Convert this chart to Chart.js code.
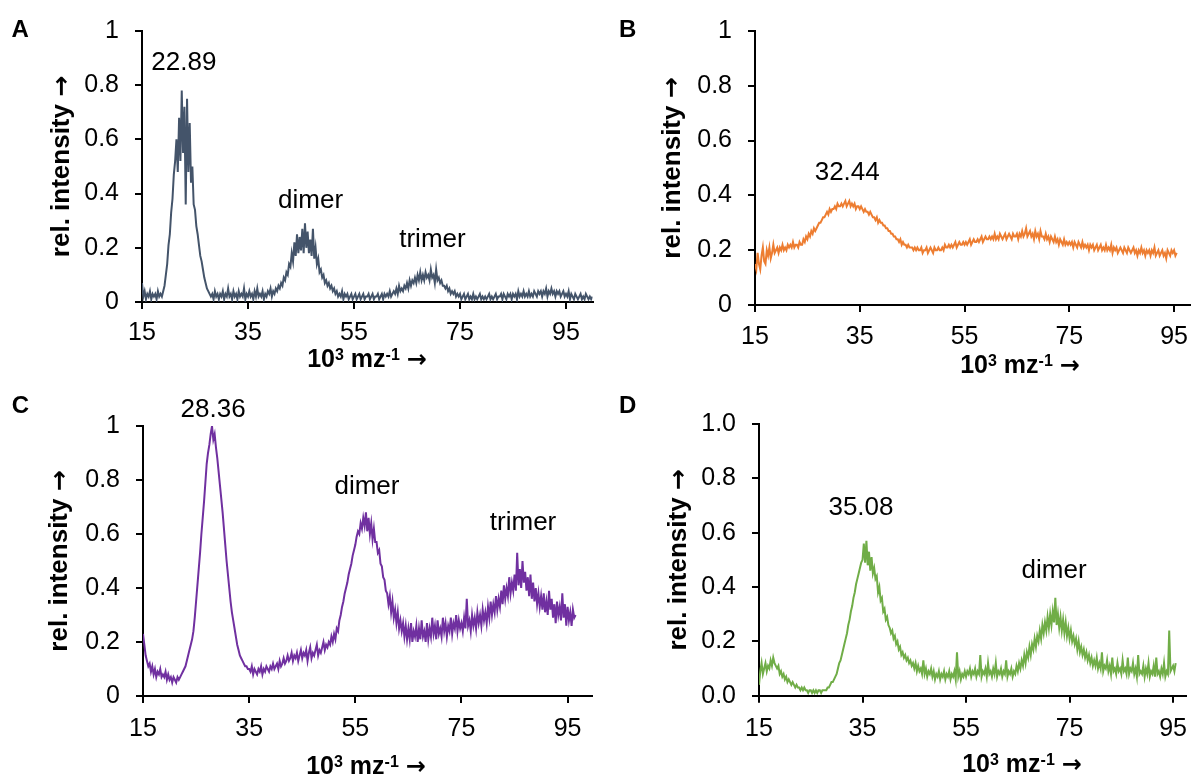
<!DOCTYPE html>
<html>
<head>
<meta charset="utf-8">
<script src="https://cdn.jsdelivr.net/npm/chart.js@4.4.1/dist/chart.umd.min.js"></script>
<style>
  html, body { margin: 0; padding: 0; background: #fff; }
  #wrap { position: relative; width: 1198px; height: 776px; overflow: hidden; }
  #wrap canvas { position: absolute; }
</style>
</head>
<body>
<div id="wrap">
  <canvas id="chartA" width="600" height="390" style="left:0;top:0"></canvas>
  <canvas id="chartB" width="598" height="390" style="left:600px;top:0"></canvas>
  <canvas id="chartC" width="600" height="386" style="left:0;top:390px"></canvas>
  <canvas id="chartD" width="598" height="386" style="left:600px;top:390px"></canvas>
</div>
<script>
var FONT = "'Liberation Sans', Arial, sans-serif";
var ARROW_FONT = "'DejaVu Sans', sans-serif";

// x sampling: 10^3 m/z from 15, every 0.25
var mzStart = 15;
var mzStep = 0.25;

var xTicks = [15, 35, 55, 75, 95];
var yTicks = [0, 0.2, 0.4, 0.6, 0.8, 1];
var yTickLabels = ['0', '0.2', '0.4', '0.6', '0.8', '1'];
var yTickLabelsD = ['0.0', '0.2', '0.4', '0.6', '0.8', '1.0'];

// A: 15 .. 100 (one row = 5 units)
var intensityA = [
  0.07,0.02,0.04,0.01,0.03,0.02,0.04,0.01,0.03,0.02,0.03,0.01,0.04,0.02,0.03,0.02,0.04,0.06,0.10,0.14,
  0.21,0.25,0.33,0.38,0.47,0.52,0.60,0.48,0.68,0.52,0.78,0.55,0.72,0.36,0.75,0.48,0.66,0.44,0.50,0.36,
  0.34,0.28,0.25,0.21,0.17,0.15,0.12,0.09,0.07,0.05,0.04,0.03,0.02,0.03,0.01,0.04,0.02,0.03,0.01,0.03,
  0.02,0.04,0.01,0.03,0.02,0.05,0.02,0.03,0.01,0.04,0.02,0.03,0.01,0.04,0.02,0.03,0.02,0.05,0.01,0.03,
  0.02,0.04,0.02,0.03,0.01,0.04,0.02,0.05,0.02,0.03,0.02,0.04,0.01,0.03,0.02,0.04,0.03,0.05,0.02,0.04,
  0.03,0.05,0.04,0.06,0.05,0.07,0.06,0.09,0.08,0.11,0.10,0.14,0.13,0.18,0.15,0.22,0.17,0.25,0.18,0.24,
  0.19,0.27,0.18,0.29,0.20,0.26,0.18,0.23,0.17,0.27,0.16,0.20,0.14,0.16,0.11,0.12,0.09,0.10,0.07,0.08,
  0.06,0.07,0.05,0.06,0.04,0.05,0.03,0.04,0.02,0.03,0.02,0.04,0.01,0.03,0.02,0.03,0.01,0.02,0.03,0.01,
  0.02,0.03,0.01,0.02,0.03,0.01,0.02,0.03,0.01,0.02,0.02,0.03,0.01,0.02,0.03,0.01,0.02,0.02,0.03,0.01,
  0.02,0.03,0.01,0.03,0.02,0.03,0.02,0.04,0.02,0.03,0.04,0.03,0.05,0.03,0.06,0.04,0.05,0.04,0.06,0.05,
  0.07,0.05,0.08,0.06,0.08,0.07,0.09,0.07,0.10,0.08,0.11,0.08,0.10,0.08,0.11,0.09,0.10,0.08,0.12,0.09,
  0.10,0.07,0.12,0.08,0.09,0.07,0.08,0.06,0.06,0.05,0.06,0.04,0.05,0.03,0.04,0.03,0.04,0.02,0.03,0.02,
  0.03,0.01,0.02,0.03,0.01,0.02,0.03,0.01,0.02,0.01,0.03,0.01,0.02,0.01,0.02,0.03,0.01,0.02,0.01,0.02,
  0.01,0.02,0.03,0.01,0.02,0.01,0.02,0.03,0.01,0.02,0.02,0.03,0.01,0.03,0.02,0.01,0.03,0.02,0.03,0.01,
  0.03,0.02,0.03,0.01,0.04,0.02,0.03,0.02,0.04,0.02,0.03,0.02,0.04,0.02,0.03,0.02,0.04,0.03,0.02,0.04,
  0.03,0.04,0.02,0.04,0.03,0.05,0.02,0.04,0.03,0.05,0.03,0.04,0.02,0.04,0.03,0.04,0.02,0.03,0.04,0.02,
  0.03,0.02,0.04,0.01,0.03,0.02,0.01,0.03,0.02,0.01,0.02,0.03,0.01,0.02,0.01,0.03,0.02,0.01,0.02,0.01,
  0.02
];

// B: 15 .. 95.5
var intensityB = [
  0.15,0.13,0.19,0.15,0.13,0.18,0.21,0.16,0.15,0.20,0.18,0.21,0.17,0.19,0.22,0.19,0.20,0.21,0.19,0.21,
  0.20,0.22,0.20,0.21,0.20,0.22,0.21,0.22,0.21,0.23,0.21,0.22,0.22,0.21,0.23,0.22,0.22,0.24,0.23,0.25,
  0.24,0.26,0.25,0.27,0.26,0.28,0.27,0.28,0.29,0.30,0.30,0.31,0.32,0.32,0.33,0.34,0.33,0.35,0.34,0.35,
  0.35,0.36,0.35,0.37,0.36,0.36,0.37,0.36,0.37,0.38,0.36,0.37,0.38,0.36,0.37,0.36,0.37,0.35,0.36,0.36,
  0.35,0.36,0.35,0.34,0.35,0.34,0.34,0.33,0.34,0.33,0.32,0.32,0.31,0.32,0.30,0.31,0.30,0.30,0.29,0.29,
  0.28,0.28,0.27,0.27,0.26,0.26,0.25,0.25,0.24,0.24,0.23,0.24,0.22,0.23,0.22,0.22,0.21,0.22,0.21,0.21,
  0.21,0.20,0.21,0.20,0.21,0.20,0.20,0.21,0.19,0.20,0.20,0.21,0.19,0.20,0.21,0.20,0.19,0.21,0.20,0.20,
  0.21,0.20,0.20,0.21,0.20,0.22,0.21,0.21,0.22,0.21,0.22,0.21,0.22,0.23,0.21,0.22,0.23,0.22,0.22,0.23,
  0.22,0.23,0.22,0.23,0.24,0.22,0.23,0.24,0.23,0.23,0.24,0.23,0.24,0.25,0.23,0.24,0.25,0.24,0.24,0.25,
  0.24,0.25,0.24,0.26,0.24,0.25,0.24,0.26,0.25,0.24,0.25,0.26,0.24,0.25,0.26,0.25,0.24,0.26,0.25,0.25,
  0.26,0.24,0.26,0.25,0.27,0.25,0.26,0.28,0.25,0.26,0.27,0.25,0.26,0.24,0.27,0.25,0.26,0.24,0.27,0.25,
  0.25,0.24,0.26,0.24,0.25,0.23,0.25,0.24,0.23,0.25,0.23,0.24,0.22,0.24,0.23,0.22,0.24,0.22,0.23,0.22,
  0.23,0.22,0.23,0.21,0.23,0.22,0.21,0.23,0.22,0.21,0.23,0.21,0.22,0.21,0.22,0.20,0.22,0.21,0.22,0.20,
  0.21,0.22,0.20,0.21,0.22,0.20,0.21,0.20,0.22,0.20,0.21,0.20,0.22,0.19,0.21,0.20,0.21,0.19,0.20,0.21,
  0.20,0.19,0.21,0.20,0.19,0.21,0.20,0.19,0.20,0.21,0.19,0.20,0.18,0.20,0.19,0.21,0.19,0.20,0.18,0.20,
  0.19,0.20,0.18,0.20,0.19,0.21,0.18,0.19,0.20,0.18,0.19,0.20,0.18,0.19,0.17,0.20,0.19,0.18,0.20,0.19,
  0.20,0.18,0.19
];

// C: 15 .. 96.5
var intensityC = [
  0.23,0.19,0.15,0.13,0.11,0.12,0.09,0.11,0.08,0.10,0.07,0.09,0.08,0.10,0.07,0.08,0.07,0.09,0.06,0.08,
  0.06,0.07,0.05,0.07,0.06,0.05,0.07,0.06,0.07,0.08,0.09,0.10,0.11,0.13,0.15,0.17,0.19,0.21,0.24,0.29,
  0.35,0.41,0.47,0.53,0.60,0.66,0.72,0.79,0.86,0.90,0.93,0.97,1.00,0.95,0.97,0.92,0.88,0.83,0.78,0.73,
  0.68,0.62,0.56,0.50,0.45,0.40,0.35,0.31,0.28,0.25,0.22,0.19,0.17,0.15,0.14,0.13,0.12,0.11,0.11,0.10,
  0.10,0.09,0.11,0.08,0.10,0.09,0.08,0.10,0.09,0.11,0.08,0.10,0.09,0.11,0.10,0.09,0.11,0.10,0.12,0.10,
  0.11,0.12,0.10,0.13,0.11,0.12,0.14,0.12,0.13,0.15,0.13,0.14,0.16,0.13,0.15,0.14,0.16,0.13,0.15,0.17,
  0.14,0.16,0.15,0.17,0.13,0.16,0.18,0.14,0.16,0.15,0.17,0.19,0.15,0.17,0.16,0.18,0.20,0.17,0.19,0.18,
  0.20,0.19,0.22,0.20,0.23,0.21,0.25,0.24,0.28,0.30,0.33,0.35,0.38,0.40,0.42,0.45,0.47,0.49,0.52,0.54,
  0.56,0.59,0.61,0.60,0.64,0.62,0.66,0.63,0.68,0.61,0.66,0.60,0.64,0.58,0.62,0.57,0.57,0.53,0.54,0.49,
  0.48,0.44,0.43,0.39,0.38,0.34,0.37,0.31,0.35,0.29,0.32,0.27,0.31,0.25,0.28,0.24,0.27,0.22,0.26,0.21,
  0.25,0.21,0.27,0.20,0.24,0.22,0.26,0.20,0.25,0.21,0.28,0.22,0.24,0.20,0.27,0.21,0.25,0.22,0.29,0.23,
  0.26,0.21,0.28,0.23,0.25,0.22,0.29,0.24,0.27,0.22,0.26,0.24,0.29,0.23,0.27,0.25,0.30,0.24,0.28,0.25,
  0.27,0.24,0.29,0.25,0.36,0.26,0.28,0.24,0.30,0.26,0.29,0.25,0.31,0.27,0.30,0.26,0.32,0.28,0.31,0.27,
  0.33,0.29,0.35,0.30,0.34,0.31,0.37,0.32,0.36,0.33,0.39,0.34,0.41,0.36,0.40,0.37,0.44,0.38,0.42,0.39,
  0.45,0.39,0.53,0.41,0.47,0.40,0.50,0.42,0.46,0.39,0.44,0.37,0.45,0.36,0.42,0.35,0.40,0.34,0.38,0.33,
  0.37,0.32,0.38,0.31,0.35,0.30,0.39,0.32,0.36,0.29,0.34,0.27,0.35,0.30,0.33,0.28,0.38,0.29,0.34,0.26,
  0.33,0.28,0.31,0.26,0.32,0.29,0.30
];

// D: 15 .. 95.5
var intensityD = [
  0.04,0.09,0.12,0.08,0.10,0.12,0.09,0.11,0.10,0.13,0.11,0.14,0.12,0.11,0.10,0.11,0.08,0.09,0.07,0.08,
  0.06,0.07,0.05,0.06,0.05,0.04,0.05,0.04,0.03,0.04,0.03,0.03,0.02,0.03,0.02,0.03,0.02,0.02,0.01,0.02,
  0.02,0.01,0.02,0.01,0.02,0.01,0.02,0.02,0.01,0.02,0.02,0.02,0.02,0.03,0.03,0.04,0.05,0.05,0.06,0.07,
  0.08,0.10,0.12,0.13,0.15,0.17,0.19,0.21,0.23,0.26,0.28,0.31,0.33,0.36,0.38,0.41,0.43,0.45,0.47,0.49,
  0.50,0.56,0.49,0.57,0.48,0.53,0.46,0.51,0.45,0.47,0.43,0.44,0.38,0.40,0.35,0.36,0.31,0.32,0.28,0.29,
  0.26,0.25,0.23,0.24,0.21,0.22,0.19,0.20,0.17,0.18,0.15,0.16,0.14,0.15,0.13,0.14,0.12,0.13,0.11,0.12,
  0.10,0.12,0.09,0.11,0.09,0.10,0.08,0.13,0.08,0.10,0.07,0.09,0.08,0.10,0.07,0.09,0.06,0.08,0.07,0.09,
  0.06,0.08,0.07,0.09,0.06,0.08,0.07,0.09,0.06,0.08,0.07,0.09,0.06,0.16,0.07,0.09,0.06,0.08,0.07,0.09,
  0.07,0.09,0.08,0.10,0.07,0.09,0.08,0.10,0.07,0.09,0.08,0.15,0.07,0.09,0.08,0.10,0.07,0.12,0.08,0.09,
  0.07,0.10,0.08,0.12,0.07,0.09,0.08,0.10,0.07,0.09,0.08,0.13,0.07,0.09,0.08,0.10,0.07,0.09,0.08,0.11,
  0.09,0.12,0.10,0.13,0.11,0.15,0.12,0.16,0.14,0.18,0.15,0.19,0.17,0.21,0.18,0.22,0.20,0.24,0.21,0.26,
  0.23,0.27,0.24,0.29,0.25,0.30,0.26,0.31,0.27,0.36,0.26,0.30,0.25,0.29,0.24,0.28,0.23,0.27,0.22,0.25,
  0.21,0.24,0.20,0.22,0.19,0.21,0.17,0.20,0.16,0.18,0.15,0.17,0.14,0.16,0.13,0.15,0.12,0.14,0.11,0.13,
  0.11,0.14,0.10,0.12,0.10,0.16,0.09,0.11,0.10,0.13,0.09,0.11,0.08,0.14,0.09,0.10,0.08,0.12,0.09,0.10,
  0.08,0.13,0.09,0.10,0.08,0.14,0.08,0.10,0.09,0.12,0.08,0.10,0.07,0.15,0.08,0.09,0.08,0.11,0.07,0.10,
  0.08,0.12,0.07,0.09,0.08,0.11,0.07,0.14,0.08,0.09,0.07,0.10,0.08,0.12,0.07,0.09,0.08,0.24,0.09,0.10,
  0.11,0.09,0.12
];

// peak labels: [text, x, y] in data units
var notesA = [['22.89', 22.9, 0.883], ['dimer', 46.8, 0.375], ['trimer', 69.8, 0.228]];
var notesB = [['32.44', 32.6, 0.484]];
var notesC = [['28.36', 28.2, 1.06], ['dimer', 57.2, 0.774], ['trimer', 86.6, 0.642]];
var notesD = [['35.08', 34.7, 0.692], ['dimer', 72.0, 0.461]];

// draws a row of [text, font, raise] pieces centred on cx
function drawPieces(ctx, parts, cx, y) {
  var total = 0;
  parts.forEach(function (p) {
    ctx.font = p[1];
    p.w = ctx.measureText(p[0]).width;
    total += p.w;
  });
  var x = cx - total / 2;
  parts.forEach(function (p) {
    ctx.font = p[1];
    ctx.fillText(p[0], x, y - p[2]);
    x += p.w;
  });
}

var panelText = {
  id: 'panelText',
  afterDraw: function (chart, args, opts) {
    var ctx = chart.ctx;
    var xs = chart.scales.x, ys = chart.scales.y, area = chart.chartArea;
    ctx.save();
    ctx.fillStyle = '#000';

    ctx.font = 'bold 24px ' + FONT;
    ctx.textAlign = 'left';
    ctx.textBaseline = 'alphabetic';
    ctx.fillText(opts.letter, opts.letterX, opts.letterY);

    ctx.font = '26px ' + FONT;
    ctx.textAlign = 'center';
    ctx.textBaseline = 'middle';
    opts.notes.forEach(function (n) {
      ctx.fillText(n[0], xs.getPixelForValue(n[1]), ys.getPixelForValue(n[2]));
    });

    ctx.textAlign = 'left';
    ctx.textBaseline = 'alphabetic';
    drawPieces(ctx, [
      ['10', 'bold 25px ' + FONT, 0],
      ['3', 'bold 16px ' + FONT, 7],
      [' mz', 'bold 25px ' + FONT, 0],
      ['-1', 'bold 16px ' + FONT, 7],
      [' ', 'bold 25px ' + FONT, 0],
      ['\u2192', 'bold 24px ' + ARROW_FONT, 0]
    ], opts.titleX, opts.titleY);

    ctx.translate(opts.yTitleX, (area.top + area.bottom) / 2);
    ctx.rotate(-Math.PI / 2);
    ctx.textBaseline = 'middle';
    drawPieces(ctx, [
      ['rel. intensity ', 'bold 26px ' + FONT, 0],
      ['\u2192', 'bold 25px ' + ARROW_FONT, 0]
    ], 0, 0);
    ctx.restore();
  }
};

function makeChart(id, c) {
  var points = c.values.map(function (v, i) {
    return { x: mzStart + i * mzStep, y: v };
  });
  return new Chart(document.getElementById(id), {
    type: 'line',
    data: {
      datasets: [{
        data: points,
        borderColor: c.color,
        borderWidth: 2,
        pointRadius: 0,
        tension: 0,
        fill: false
      }]
    },
    options: {
      responsive: false,
      animation: false,
      layout: { padding: { left: 0, right: c.padRight, top: c.padTop, bottom: 0 } },
      plugins: {
        legend: { display: false },
        tooltip: { enabled: false },
        panelText: {
          letter: c.letter, letterX: c.letterX, letterY: c.letterY, notes: c.notes,
          titleX: c.titleX, titleY: c.titleY, yTitleX: c.yTitleX
        }
      },
      scales: {
        x: {
          type: 'linear',
          min: 15,
          max: c.xMax,
          afterBuildTicks: function (s) { s.ticks = xTicks.map(function (v) { return { value: v }; }); },
          afterFit: function (s) { s.height = c.xHeight; },
          grid: { drawOnChartArea: false, drawTicks: true, tickLength: 7, color: '#000', lineWidth: 2 },
          border: { color: '#000', width: 2 },
          ticks: { color: '#000', font: { family: FONT, size: 25 }, padding: c.xPad, maxRotation: 0, autoSkip: false }
        },
        y: {
          min: 0,
          max: 1,
          afterBuildTicks: function (s) { s.ticks = yTicks.map(function (v) { return { value: v }; }); },
          afterFit: function (s) { s.width = c.yWidth; },
          grid: { drawOnChartArea: false, drawTicks: true, tickLength: 7, color: '#000', lineWidth: 2 },
          border: { color: '#000', width: 2 },
          ticks: {
            color: '#000', font: { family: FONT, size: 25 }, padding: 16, autoSkip: false,
            callback: function (v, i) { return c.yLabels[i]; }
          }
        }
      }
    },
    plugins: [panelText]
  });
}

makeChart('chartA', {
  values: intensityA, color: '#44546A', xMax: 100, yLabels: yTickLabels, notes: notesA,
  yWidth: 142, padRight: 7.5, padTop: 26, xHeight: 88, xPad: 9, yTitleX: 62,
  letter: 'A', letterX: 11.5, letterY: 37, titleX: 367, titleY: 367
});
makeChart('chartB', {
  values: intensityB, color: '#ED7D31', xMax: 98, yLabels: yTickLabels, notes: notesB,
  yWidth: 155, padRight: 0, padTop: 28, xHeight: 85, xPad: 10, yTitleX: 72.5,
  letter: 'B', letterX: 19, letterY: 37, titleX: 420, titleY: 373
});
makeChart('chartC', {
  values: intensityC, color: '#7030A0', xMax: 99.5, yLabels: yTickLabels, notes: notesC,
  yWidth: 143, padRight: 8.5, padTop: 36, xHeight: 80, xPad: 11, yTitleX: 60,
  letter: 'C', letterX: 11.7, letterY: 23.3, titleX: 366, titleY: 384
});
makeChart('chartD', {
  values: intensityD, color: '#70AD47', xMax: 97.5, yLabels: yTickLabelsD, notes: notesD,
  yWidth: 159, padRight: 0, padTop: 34, xHeight: 80.3, xPad: 11, yTitleX: 79,
  letter: 'D', letterX: 19, letterY: 23, titleX: 422, titleY: 382
});
</script>
</body>
</html>
